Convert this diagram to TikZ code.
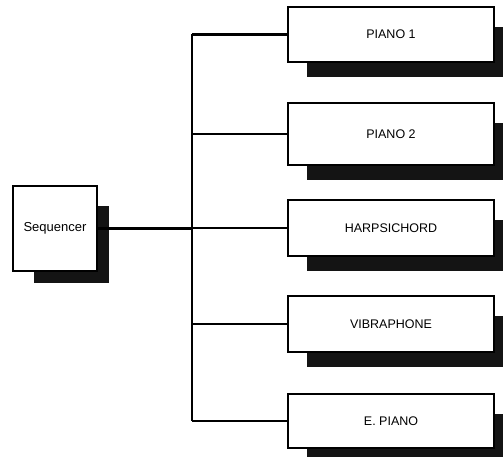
\documentclass[tikz,border=0pt]{standalone}
\usepackage{fontspec}
\setmainfont{Liberation Sans}
\usetikzlibrary{backgrounds}
\begin{document}
\begin{tikzpicture}[x=1pt,y=-1pt,
  box/.style={draw, line width=1.5pt, fill=white, inner sep=0pt, font=\fontsize{12.5}{14}\selectfont},
  ibox/.style={box, minimum width=206pt},
  wire/.style={line width=2.4pt},
  shadowfill/.style={fill=black!92}]
\useasboundingbox (0,0) rectangle (503,457);
\node[box, minimum width=84pt, minimum height=85pt, font=\fontsize{13}{15}\selectfont] (seq) at (55,228.5) {Sequencer};
\node[ibox, minimum height=55pt] (p1) at (391,34.5) {PIANO 1};
\node[ibox, minimum height=62pt] (p2) at (391,134) {PIANO 2};
\node[ibox, minimum height=56pt] (hp) at (391,228) {HARPSICHORD};
\node[ibox, minimum height=56pt] (vb) at (391,324) {VIBRAPHONE};
\node[ibox, minimum height=54pt] (ep) at (391,421) {E. PIANO};
\begin{scope}[on background layer]
  \fill[shadowfill] ([shift={(22,21)}]seq.north west) rectangle ([shift={(11,11)}]seq.south east);
  \foreach \n in {p1,p2,hp,vb,ep}
    \fill[shadowfill] ([shift={(20,21)}]\n.north west) rectangle ([shift={(8,14)}]\n.south east);
\end{scope}
\coordinate (bt) at (192,35);
\coordinate (bb) at (192,422);
\draw[wire] (bt |- p1.west) -- (bb |- ep.west);
\draw[wire] (seq.east) -- (seq.east -| bt);
\foreach \n in {p1,p2,hp,vb,ep}
  \draw[wire] (bt |- \n.west) -- (\n.west);
\end{tikzpicture}
\end{document}
